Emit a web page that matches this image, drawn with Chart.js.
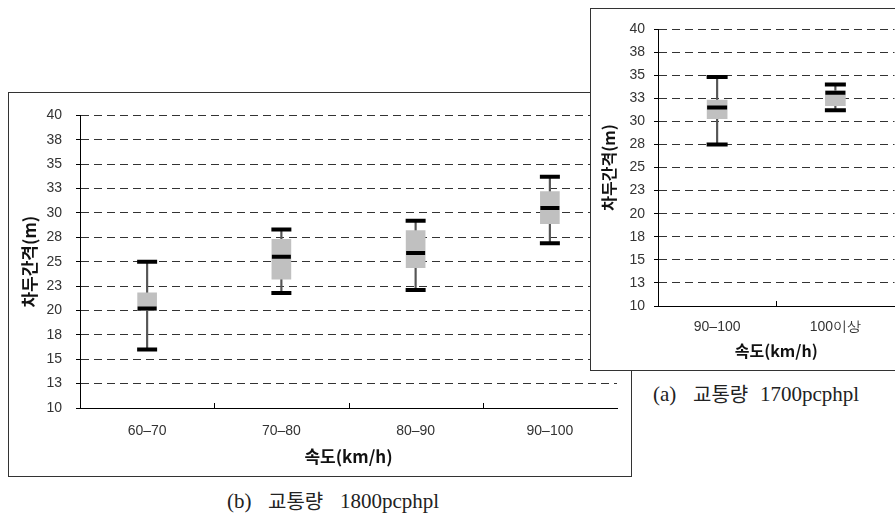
<!DOCTYPE html>
<html>
  <head>
    <title>차두간격 박스플롯</title>
    <meta charset="utf-8" />
    <script src="https://cdn.jsdelivr.net/npm/chart.js"></script>
    <style>
      body {
        margin: 0;
        width: 895px;
        height: 517px;
        overflow: hidden;
        background: #fff;
        position: relative;
        font-family: "Liberation Sans", Arial, sans-serif;
      }

      .frame {
        position: absolute;
        border: 1px solid #333;
        background: #fff;
      }

      #frameB {
        left: 8px;
        top: 92px;
        width: 622px;
        height: 383px;
        z-index: 1;
      }

      #frameA {
        left: 590px;
        top: 8px;
        width: 318px;
        height: 361px;
        z-index: 2;
      }

      .caption {
        position: absolute;
        font-family: "Liberation Serif", "DejaVu Serif", serif;
        font-size: 21px;
        line-height: 24px;
        color: #222;
        white-space: nowrap;
      }

      .caption span {
        display: inline-block;
        vertical-align: top;
      }

      .caption .ko {
        font-family: "Noto Sans CJK KR", sans-serif;
        font-size: 20px;
      }
    </style>
  </head>
  <body>
    <div class="frame" id="frameB">
      <canvas id="chartB" width="622" height="383"></canvas>
    </div>
    <div class="frame" id="frameA">
      <canvas id="chartA" width="318" height="361"></canvas>
    </div>
    <div class="caption" style="left: 227px; top: 489px">
      <span style="width: 41px">(b)</span><span class="ko" style="width: 72px">교통량</span><span>1800pcphpl</span>
    </div>
    <div class="caption" style="left: 653px; top: 382px">
      <span style="width: 40px">(a)</span><span class="ko" style="width: 67px">교통량</span><span>1700pcphpl</span>
    </div>

    <script>
      // y축 눈금 (2.5 간격, 반올림 표시)
      var yTickLabels = ["10", "13", "15", "18", "20", "23", "25", "28", "30", "33", "35", "38", "40"];

      // (b) 교통량 1800pcphpl
      var categoriesB = ["60–70", "70–80", "80–90", "90–100"];
      var minB = [16.0, 21.8, 22.1, 26.9];
      var q1B = [20.0, 23.2, 24.4, 28.9];
      var medianB = [20.2, 25.5, 25.9, 30.5];
      var q3B = [21.8, 27.3, 28.2, 32.2];
      var maxB = [25.0, 28.3, 29.2, 33.7];

      // (a) 교통량 1700pcphpl
      var categoriesA = ["90–100", "100이상"];
      var minA = [27.5, 31.2];
      var q1A = [30.3, 31.7];
      var medianA = [31.5, 33.1];
      var q3A = [32.3, 33.3];
      var maxA = [34.8, 34.0];

      // 범주 경계에 위로 짧은 눈금
      const catTicks = {
        id: "catTicks",
        afterDraw(chart) {
          const x = chart.scales.x;
          const ctx = chart.ctx;
          ctx.save();
          ctx.strokeStyle = "#000";
          ctx.lineWidth = 1;
          for (let i = 0; i < x.ticks.length - 1; i++) {
            const px = Math.round((x.getPixelForValue(i) + x.getPixelForValue(i + 1)) / 2) + 0.5;
            ctx.beginPath();
            ctx.moveTo(px, chart.chartArea.bottom);
            ctx.lineTo(px, chart.chartArea.bottom - 5);
            ctx.stroke();
          }
          ctx.restore();
        },
      };

      function makeBoxChart(id, cats, mins, q1s, meds, q3s, maxs, o) {
        const pairs = (a, b) => a.map((v, i) => [v, b[i]]);
        const capStyle = {
          type: "line",
          showLine: false,
          pointStyle: "line",
          pointRadius: o.cap / 2,
          pointHoverRadius: o.cap / 2,
          pointBorderWidth: 4,
          pointBorderColor: "#000",
          borderColor: "#000",
          order: 0,
        };

        new Chart(document.getElementById(id), {
          data: {
            labels: cats,
            datasets: [
              Object.assign({ data: maxs }, capStyle),
              Object.assign({ data: mins }, capStyle),
              Object.assign({ data: meds }, capStyle, { pointRadius: o.box / 2 }),
              {
                type: "bar",
                data: pairs(q1s, q3s),
                backgroundColor: "#c0c0c0",
                barThickness: o.box,
                grouped: false,
                order: 1,
              },
              {
                type: "bar",
                data: pairs(mins, maxs),
                backgroundColor: "#555",
                barThickness: 1.5,
                grouped: false,
                order: 2,
              },
            ],
          },
          options: {
            responsive: false,
            animation: false,
            layout: { padding: { top: o.top, right: o.right, left: 0, bottom: 0 } },
            plugins: { legend: { display: false }, tooltip: { enabled: false } },
            scales: {
              x: {
                type: "category",
                offset: true,
                grid: { display: false, drawTicks: false },
                border: { display: true, color: "#000", width: 1 },
                ticks: {
                  padding: o.xPad,
                  color: "#333",
                  font: { family: "'Liberation Sans', Arial", size: 14 },
                },
                title: {
                  display: true,
                  text: "속도(km/h)",
                  color: "#111",
                  font: { family: "'Noto Sans CJK KR'", size: o.titleSize, weight: "bold" },
                  padding: { top: 0, bottom: o.xTitlePad },
                },
                afterFit: (s) => {
                  s.height = o.xh;
                },
              },
              y: {
                min: 10,
                max: 40,
                grid: {
                  color: "#333",
                  lineWidth: 1,
                  tickLength: 4,
                  tickColor: "#000",
                  tickBorderDash: [],
                },
                border: { display: true, color: "#000", width: 1, dash: [8, 5] },
                ticks: {
                  stepSize: 2.5,
                  padding: o.yPad,
                  color: "#333",
                  font: { family: "'Liberation Sans', Arial", size: 14 },
                  callback: (v, i) => yTickLabels[i],
                },
                title: {
                  display: true,
                  text: "차두간격(m)",
                  color: "#111",
                  font: { family: "'Noto Sans CJK KR'", size: o.titleSize, weight: "bold" },
                  padding: { top: o.yTitlePad, bottom: 0 },
                },
                afterFit: (s) => {
                  s.width = o.yw;
                },
              },
            },
          },
          plugins: [catTicks],
        });
      }

      makeBoxChart("chartB", categoriesB, minB, q1B, medianB, q3B, maxB, {
        top: 21, right: 9, xh: 68, yw: 71,
        xPad: 15, yPad: 14, xTitlePad: 9, yTitlePad: 10,
        box: 19, cap: 20, titleSize: 17,
      });

      makeBoxChart("chartA", categoriesA, minA, q1A, medianA, q3A, maxA, {
        top: 20, right: 11, xh: 64, yw: 67,
        xPad: 13, yPad: 9, xTitlePad: 9, yTitlePad: 8,
        box: 20, cap: 21, titleSize: 16,
      });
    </script>
  </body>
</html>
